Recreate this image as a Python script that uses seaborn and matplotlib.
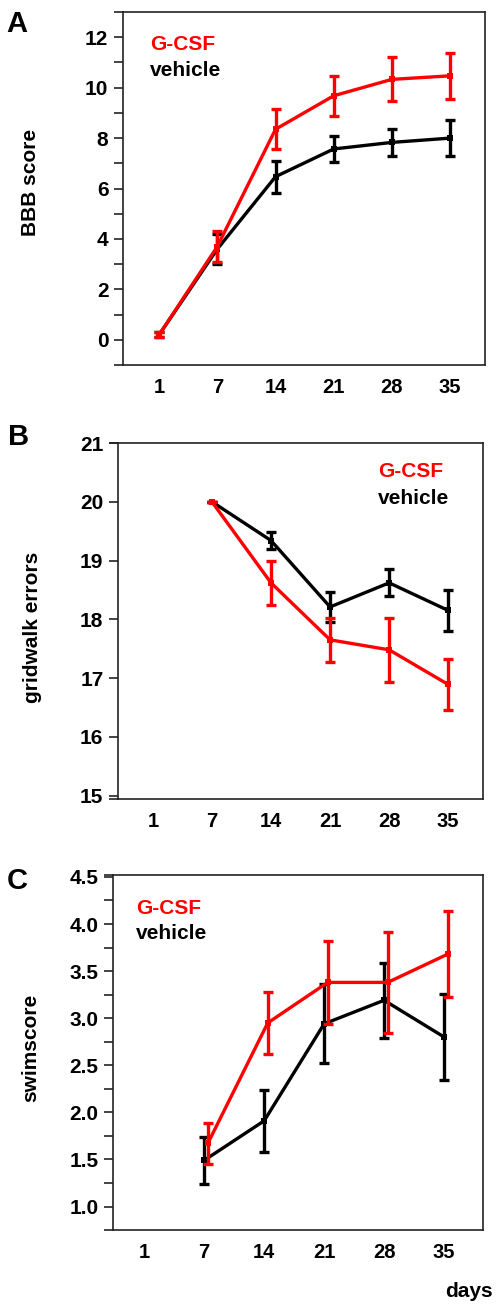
import numpy as np
import pandas as pd
import matplotlib
matplotlib.use("Agg")
import matplotlib.pyplot as plt
import seaborn as sns

# ---------------- data ----------------
days = ["1", "7", "14", "21", "28", "35"]

bbb_gcsf = [0.2, 3.7, 8.35, 9.68, 10.33, 10.47]
bbb_gcsf_err = [0.1, 0.6, 0.79, 0.8, 0.87, 0.9]
bbb_veh = [0.2, 3.6, 6.47, 7.57, 7.83, 8.0]
bbb_veh_err = [0.1, 0.58, 0.64, 0.52, 0.55, 0.71]

grid_days = ["7", "14", "21", "28", "35"]
grid_gcsf = [20.0, 18.62, 17.65, 17.48, 16.89]
grid_gcsf_err = [0.0, 0.37, 0.38, 0.55, 0.44]
grid_veh = [20.0, 19.34, 18.21, 18.62, 18.15]
grid_veh_err = [0.0, 0.14, 0.26, 0.23, 0.35]

swim_days = ["7", "14", "21", "28", "35"]
swim_gcsf = [1.67, 2.95, 3.38, 3.38, 3.68]
swim_gcsf_err = [0.22, 0.33, 0.44, 0.54, 0.46]
swim_veh = [1.49, 1.91, 2.94, 3.19, 2.80]
swim_veh_err = [0.25, 0.33, 0.42, 0.40, 0.46]

RED = "#FF0000"
BLACK = "#000000"

sns.set_style("ticks")
plt.rcParams["font.family"] = ["Liberation Sans", "DejaVu Sans"]
plt.rcParams["font.weight"] = "bold"
plt.rcParams["text.color"] = "black"
plt.rcParams["axes.labelcolor"] = "black"
plt.rcParams["xtick.color"] = "black"
plt.rcParams["ytick.color"] = "black"

fig = plt.figure(figsize=(4.98, 13.08), dpi=100)

TICK_FS = 15
XTICK_FS = 14.5
LABEL_FS = 15
LEG_FS = 15
TICK_LEN = 6.5

def pos(day_list, offset=0.0):
    return np.array([days.index(d) for d in day_list], dtype=float) + offset

def draw(ax, dlist, gc, gce, vh, vhe, red_offset=0.0):
    df = pd.DataFrame({
        "x": np.concatenate([pos(dlist), pos(dlist, red_offset)]),
        "y": list(vh) + list(gc),
        "group": ["vehicle"] * len(vh) + ["G-CSF"] * len(gc),
    })
    sns.lineplot(data=df, x="x", y="y", hue="group", hue_order=["vehicle", "G-CSF"],
                 palette={"vehicle": BLACK, "G-CSF": RED}, marker="s", markersize=4,
                 markeredgewidth=0, linewidth=2.4, legend=False, ax=ax, zorder=3)
    ax.errorbar(pos(dlist), vh, yerr=vhe, fmt="none", ecolor=BLACK, elinewidth=2.4,
                capsize=3.5, capthick=2.4, zorder=2)
    ax.errorbar(pos(dlist, red_offset), gc, yerr=gce, fmt="none", ecolor=RED, elinewidth=2.4,
                capsize=3.5, capthick=2.4, zorder=4)
    ax.set_xticks(range(len(days)))
    ax.set_xticklabels(days)
    ax.tick_params(axis="x", length=0, pad=9, labelsize=XTICK_FS)
    ax.tick_params(axis="y", which="both", length=TICK_LEN, width=1.1, pad=4, labelsize=TICK_FS,
                   color="#111111")
    ax.set_xlabel("")
    for s in ax.spines.values():
        s.set_visible(True)
        s.set_color("#222222")
        s.set_linewidth(1.2)
    # horizontal frame lines extend left to the end of the y ticks
    w_px = ax.get_position().width * fig.get_figwidth() * fig.dpi
    ext = TICK_LEN / 72 * fig.dpi / w_px
    for yy in (0, 1):
        ax.plot([-ext, 0], [yy, yy], transform=ax.transAxes, color="#222222",
                lw=1.2, clip_on=False, solid_capstyle="butt")

def finish(ax):
    for lab in ax.get_xticklabels() + ax.get_yticklabels():
        lab.set_fontweight("bold")
        lab.set_color("black")

def legend(ax, x, y1, y2):
    ax.text(x, y1, "G-CSF", color=RED, fontsize=LEG_FS, fontweight="bold",
            transform=ax.transAxes, va="center", ha="left")
    ax.text(x, y2, "vehicle", color=BLACK, fontsize=LEG_FS, fontweight="bold",
            transform=ax.transAxes, va="center", ha="left")

# ---------------- Panel A ----------------
axA = fig.add_axes([0.247, 0.7209, 0.727, 0.2699])
draw(axA, days, bbb_gcsf, bbb_gcsf_err, bbb_veh, bbb_veh_err)
axA.set_ylim(-1, 13)
axA.set_xlim(-0.62, 5.6)
axA.set_yticks([0, 2, 4, 6, 8, 10, 12])
axA.set_yticks([1, 3, 5, 7, 9, 11], minor=True)
axA.set_ylabel("BBB score", fontsize=LABEL_FS, fontweight="bold")
axA.yaxis.set_label_coords(-0.229, 0.517)
legend(axA, 0.075, 0.907, 0.833)
finish(axA)
fig.text(0.012, 0.9925, "A", fontsize=21, fontweight="bold", va="top", ha="left")

# ---------------- Panel B ----------------
axB = fig.add_axes([0.237, 0.3891, 0.733, 0.2722])
draw(axB, grid_days, grid_gcsf, grid_gcsf_err, grid_veh, grid_veh_err)
axB.set_ylim(14.94, 21)
axB.set_xlim(-0.59, 5.59)
axB.set_yticks([15, 16, 17, 18, 19, 20, 21])
axB.set_ylabel("gridwalk errors", fontsize=LABEL_FS, fontweight="bold")
axB.yaxis.set_label_coords(-0.208, 0.483)
legend(axB, 0.712, 0.919, 0.843)
finish(axB)
fig.text(0.016, 0.6765, "B", fontsize=21, fontweight="bold", va="top", ha="left")

# ---------------- Panel C ----------------
axC = fig.add_axes([0.227, 0.0596, 0.743, 0.2714])
draw(axC, swim_days, swim_gcsf, swim_gcsf_err, swim_veh, swim_veh_err, red_offset=0.06)
axC.set_ylim(0.75, 4.52)
axC.set_xlim(-0.52, 5.65)
axC.set_yticks([1.0, 1.5, 2.0, 2.5, 3.0, 3.5, 4.0, 4.5])
axC.set_yticklabels(["1.0", "1.5", "2.0", "2.5", "3.0", "3.5", "4.0", "4.5"])
axC.set_yticks([1.25, 1.75, 2.25, 2.75, 3.25, 3.75, 4.25], minor=True)
axC.set_ylabel("swimscore", fontsize=LABEL_FS, fontweight="bold")
axC.yaxis.set_label_coords(-0.197, 0.514)
legend(axC, 0.062, 0.907, 0.834)
finish(axC)
fig.text(0.014, 0.3375, "C", fontsize=21, fontweight="bold", va="top", ha="left")
fig.text(0.99, 0.0125, "days", fontsize=LABEL_FS, fontweight="bold", ha="right", va="center")

fig.savefig("out.png", dpi=100)
